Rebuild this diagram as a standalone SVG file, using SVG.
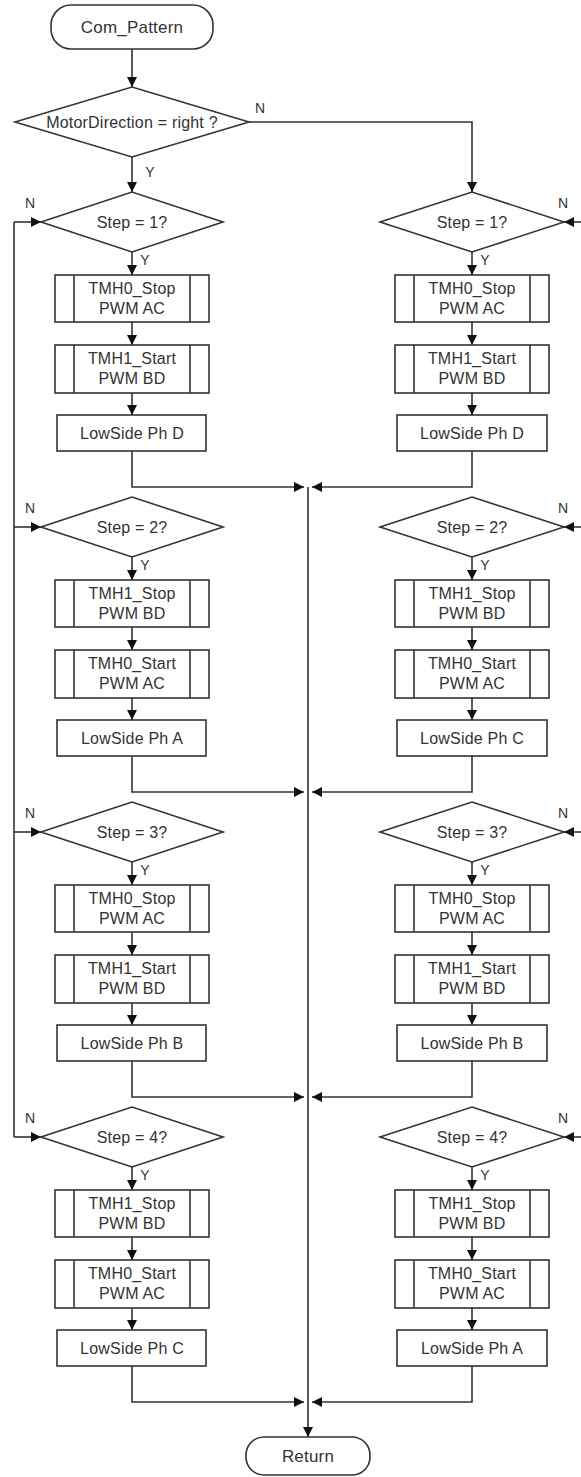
<svg xmlns="http://www.w3.org/2000/svg" width="581" height="1477" viewBox="0 0 581 1477">
<defs>
<marker id="ah" markerUnits="userSpaceOnUse" markerWidth="10" markerHeight="10" refX="10" refY="5" orient="auto" viewBox="0 0 10 10">
<path d="M0,0 L10,5 L0,10 z" fill="#111"/>
</marker>
<style>
.n{fill:#fff;stroke:#333;stroke-width:1.6}
.c{fill:none;stroke:#333;stroke-width:1.6;marker-end:url(#ah)}
.p{fill:none;stroke:#333;stroke-width:1.6}
.t{font-family:"Liberation Sans",Arial,sans-serif;font-size:16px;letter-spacing:0.2px;fill:#333;text-anchor:middle}
.b{font-size:17px}
.l{font-family:"Liberation Sans",Arial,sans-serif;font-size:14px;fill:#333;text-anchor:middle}
</style>
</defs>
<rect width="581" height="1477" fill="#fff"/>

<g id="connectors">
<path class="c" d="M132,49 V87"/>
<path class="c" d="M132,157 V192"/>
<path class="c" d="M249,122 H472 V192"/>
<path class="p" d="M14,222 V1137"/>
<path class="c" d="M14,222 H41"/>
<path class="c" d="M14,527 H41"/>
<path class="c" d="M14,832 H41"/>
<path class="c" d="M14,1137 H41"/>
<path class="c" d="M581,222 H564"/>
<path class="c" d="M581,527 H564"/>
<path class="c" d="M581,832 H564"/>
<path class="c" d="M581,1137 H564"/>
<path class="c" d="M308,487 V1437"/>
<!-- block 1 -->
<path class="c" d="M132,252 V275"/><path class="c" d="M132,322 V345"/><path class="c" d="M132,393 V415"/><path class="c" d="M132,451 V487 H304"/>
<path class="c" d="M472,252 V275"/><path class="c" d="M472,322 V345"/><path class="c" d="M472,393 V415"/><path class="c" d="M472,451 V487 H312"/>
<!-- block 2 -->
<path class="c" d="M132,557 V580"/><path class="c" d="M132,627 V650"/><path class="c" d="M132,698 V720"/><path class="c" d="M132,756 V792 H304"/>
<path class="c" d="M472,557 V580"/><path class="c" d="M472,627 V650"/><path class="c" d="M472,698 V720"/><path class="c" d="M472,756 V792 H312"/>
<!-- block 3 -->
<path class="c" d="M132,862 V885"/><path class="c" d="M132,932 V955"/><path class="c" d="M132,1003 V1025"/><path class="c" d="M132,1061 V1097 H304"/>
<path class="c" d="M472,862 V885"/><path class="c" d="M472,932 V955"/><path class="c" d="M472,1003 V1025"/><path class="c" d="M472,1061 V1097 H312"/>
<!-- block 4 -->
<path class="c" d="M132,1167 V1190"/><path class="c" d="M132,1237 V1260"/><path class="c" d="M132,1308 V1330"/><path class="c" d="M132,1366 V1402 H304"/>
<path class="c" d="M472,1167 V1190"/><path class="c" d="M472,1237 V1260"/><path class="c" d="M472,1308 V1330"/><path class="c" d="M472,1366 V1402 H312"/>
<!-- labels -->
<text class="l" x="260" y="113">N</text>
<text class="l" x="150" y="177">Y</text>
<text class="l" x="30" y="208">N</text><text class="l" x="563" y="208">N</text>
<text class="l" x="30" y="513">N</text><text class="l" x="563" y="513">N</text>
<text class="l" x="30" y="818">N</text><text class="l" x="563" y="818">N</text>
<text class="l" x="30" y="1123">N</text><text class="l" x="563" y="1123">N</text>
<text class="l" x="145" y="265">Y</text><text class="l" x="485" y="265">Y</text>
<text class="l" x="145" y="570">Y</text><text class="l" x="485" y="570">Y</text>
<text class="l" x="145" y="875">Y</text><text class="l" x="485" y="875">Y</text>
<text class="l" x="145" y="1180">Y</text><text class="l" x="485" y="1180">Y</text>
</g>

<g id="start"><rect class="n" x="51" y="5" width="162" height="44" rx="20"/><text class="t b" x="132" y="33">Com_Pattern</text></g>
<g id="dir"><polygon class="n" points="15,122 132,87 249,122 132,157"/><text class="t" x="132" y="128">MotorDirection = right ?</text></g>

<!-- LEFT column -->
<g id="L1d"><polygon class="n" points="41,222 132,192 223,222 132,252"/><text class="t" x="132" y="228">Step = 1?</text></g>
<g id="L1a"><rect class="n" x="55" y="275" width="154" height="47"/><path class="p" d="M74,275 V322 M190,275 V322"/><text class="t" x="132" y="294">TMH0_Stop</text><text class="t" x="132" y="314">PWM AC</text></g>
<g id="L1b"><rect class="n" x="55" y="345" width="154" height="48"/><path class="p" d="M74,345 V393 M190,345 V393"/><text class="t" x="132" y="364">TMH1_Start</text><text class="t" x="132" y="384">PWM BD</text></g>
<g id="L1c"><rect class="n" x="57" y="415" width="149" height="36"/><text class="t" x="132" y="439">LowSide Ph D</text></g>

<g id="L2d"><polygon class="n" points="41,527 132,497 223,527 132,557"/><text class="t" x="132" y="533">Step = 2?</text></g>
<g id="L2a"><rect class="n" x="55" y="580" width="154" height="47"/><path class="p" d="M74,580 V627 M190,580 V627"/><text class="t" x="132" y="599">TMH1_Stop</text><text class="t" x="132" y="619">PWM BD</text></g>
<g id="L2b"><rect class="n" x="55" y="650" width="154" height="48"/><path class="p" d="M74,650 V698 M190,650 V698"/><text class="t" x="132" y="669">TMH0_Start</text><text class="t" x="132" y="689">PWM AC</text></g>
<g id="L2c"><rect class="n" x="57" y="720" width="149" height="36"/><text class="t" x="132" y="744">LowSide Ph A</text></g>

<g id="L3d"><polygon class="n" points="41,832 132,802 223,832 132,862"/><text class="t" x="132" y="838">Step = 3?</text></g>
<g id="L3a"><rect class="n" x="55" y="885" width="154" height="47"/><path class="p" d="M74,885 V932 M190,885 V932"/><text class="t" x="132" y="904">TMH0_Stop</text><text class="t" x="132" y="924">PWM AC</text></g>
<g id="L3b"><rect class="n" x="55" y="955" width="154" height="48"/><path class="p" d="M74,955 V1003 M190,955 V1003"/><text class="t" x="132" y="974">TMH1_Start</text><text class="t" x="132" y="994">PWM BD</text></g>
<g id="L3c"><rect class="n" x="57" y="1025" width="149" height="36"/><text class="t" x="132" y="1049">LowSide Ph B</text></g>

<g id="L4d"><polygon class="n" points="41,1137 132,1107 223,1137 132,1167"/><text class="t" x="132" y="1143">Step = 4?</text></g>
<g id="L4a"><rect class="n" x="55" y="1190" width="154" height="47"/><path class="p" d="M74,1190 V1237 M190,1190 V1237"/><text class="t" x="132" y="1209">TMH1_Stop</text><text class="t" x="132" y="1229">PWM BD</text></g>
<g id="L4b"><rect class="n" x="55" y="1260" width="154" height="48"/><path class="p" d="M74,1260 V1308 M190,1260 V1308"/><text class="t" x="132" y="1279">TMH0_Start</text><text class="t" x="132" y="1299">PWM AC</text></g>
<g id="L4c"><rect class="n" x="57" y="1330" width="149" height="36"/><text class="t" x="132" y="1354">LowSide Ph C</text></g>

<!-- RIGHT column -->
<g id="R1d"><polygon class="n" points="380,222 472,192 564,222 472,252"/><text class="t" x="472" y="228">Step = 1?</text></g>
<g id="R1a"><rect class="n" x="395" y="275" width="154" height="47"/><path class="p" d="M414,275 V322 M530,275 V322"/><text class="t" x="472" y="294">TMH0_Stop</text><text class="t" x="472" y="314">PWM AC</text></g>
<g id="R1b"><rect class="n" x="395" y="345" width="154" height="48"/><path class="p" d="M414,345 V393 M530,345 V393"/><text class="t" x="472" y="364">TMH1_Start</text><text class="t" x="472" y="384">PWM BD</text></g>
<g id="R1c"><rect class="n" x="397" y="415" width="150" height="36"/><text class="t" x="472" y="439">LowSide Ph D</text></g>

<g id="R2d"><polygon class="n" points="380,527 472,497 564,527 472,557"/><text class="t" x="472" y="533">Step = 2?</text></g>
<g id="R2a"><rect class="n" x="395" y="580" width="154" height="47"/><path class="p" d="M414,580 V627 M530,580 V627"/><text class="t" x="472" y="599">TMH1_Stop</text><text class="t" x="472" y="619">PWM BD</text></g>
<g id="R2b"><rect class="n" x="395" y="650" width="154" height="48"/><path class="p" d="M414,650 V698 M530,650 V698"/><text class="t" x="472" y="669">TMH0_Start</text><text class="t" x="472" y="689">PWM AC</text></g>
<g id="R2c"><rect class="n" x="397" y="720" width="150" height="36"/><text class="t" x="472" y="744">LowSide Ph C</text></g>

<g id="R3d"><polygon class="n" points="380,832 472,802 564,832 472,862"/><text class="t" x="472" y="838">Step = 3?</text></g>
<g id="R3a"><rect class="n" x="395" y="885" width="154" height="47"/><path class="p" d="M414,885 V932 M530,885 V932"/><text class="t" x="472" y="904">TMH0_Stop</text><text class="t" x="472" y="924">PWM AC</text></g>
<g id="R3b"><rect class="n" x="395" y="955" width="154" height="48"/><path class="p" d="M414,955 V1003 M530,955 V1003"/><text class="t" x="472" y="974">TMH1_Start</text><text class="t" x="472" y="994">PWM BD</text></g>
<g id="R3c"><rect class="n" x="397" y="1025" width="150" height="36"/><text class="t" x="472" y="1049">LowSide Ph B</text></g>

<g id="R4d"><polygon class="n" points="380,1137 472,1107 564,1137 472,1167"/><text class="t" x="472" y="1143">Step = 4?</text></g>
<g id="R4a"><rect class="n" x="395" y="1190" width="154" height="47"/><path class="p" d="M414,1190 V1237 M530,1190 V1237"/><text class="t" x="472" y="1209">TMH1_Stop</text><text class="t" x="472" y="1229">PWM BD</text></g>
<g id="R4b"><rect class="n" x="395" y="1260" width="154" height="48"/><path class="p" d="M414,1260 V1308 M530,1260 V1308"/><text class="t" x="472" y="1279">TMH0_Start</text><text class="t" x="472" y="1299">PWM AC</text></g>
<g id="R4c"><rect class="n" x="397" y="1330" width="150" height="36"/><text class="t" x="472" y="1354">LowSide Ph A</text></g>

<g id="ret"><rect class="n" x="246" y="1437" width="124" height="38" rx="18"/><text class="t b" x="308" y="1462">Return</text></g>
</svg>
